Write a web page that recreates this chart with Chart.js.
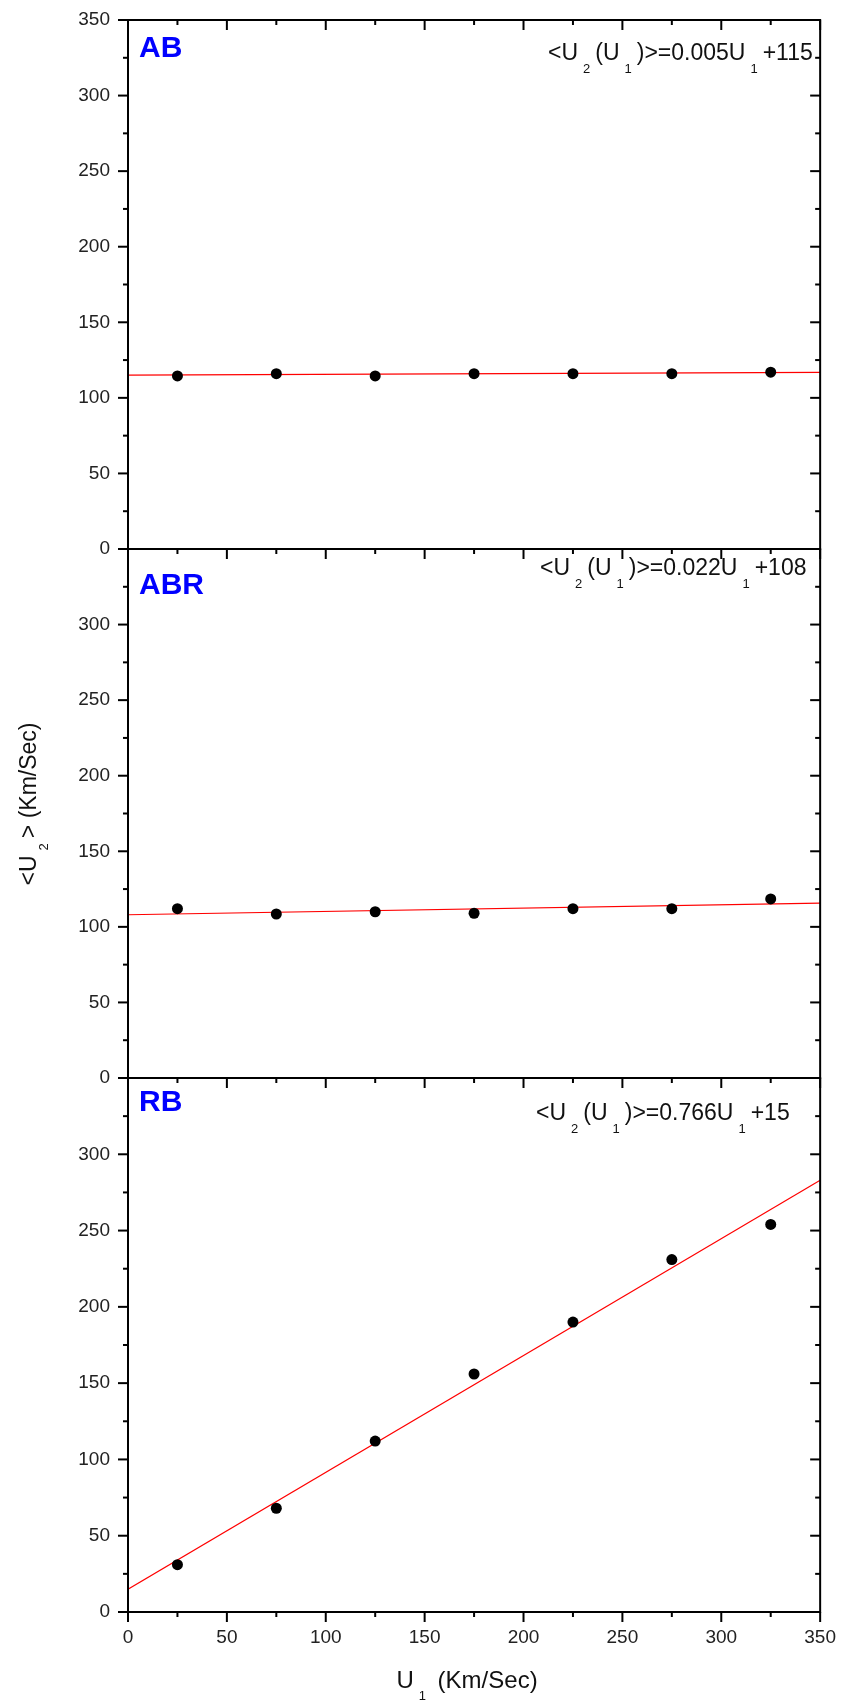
<!DOCTYPE html>
<html lang="en">
<head>
  <meta charset="UTF-8">
  <title>U2 vs U1</title>
  <script src="https://cdn.jsdelivr.net/npm/chart.js"></script>
  <style>
    body { margin: 0; background: #fff; }
    #wrap { width: 850px; height: 1701px; }
  </style>
</head>
<body>
  <div id="wrap"><canvas id="chart" width="850" height="1701"></canvas></div>
  <script>
    // data
    const u1 = [25, 75, 125, 175, 225, 275, 325];
    const abValues = [114.5, 116, 114.5, 116, 116, 116, 117];
    const abrValues = [112, 108.5, 110, 109, 112, 112, 118.5];
    const rbValues = [31, 68, 112, 156, 190, 231, 254];

    // fit lines, ends at U1 = 0 and 350
    const fitX = [0, 350];
    const abFit = [115, 116.8];
    const abrFit = [108, 115.7];
    const rbFit = [15, 283];

    const panelNames = ['AB', 'ABR', 'RB'];
    const fitSlopes = ['0.005', '0.022', '0.766'];
    const fitIntercepts = ['115', '108', '15'];
    const axisIds = ['yA', 'yB', 'yC'];

    const tickStep = 50;
    const minorStep = 25;

    const pts = vals => u1.map((x, i) => ({ x, y: vals[i] }));
    const fit = ends => fitX.map((x, i) => ({ x, y: ends[i] }));

    const pointSets = [abValues, abrValues, rbValues].map((v, i) => ({
      data: pts(v), yAxisID: axisIds[i], showLine: false,
      pointRadius: 5.5, pointBackgroundColor: '#000', pointBorderWidth: 0
    }));
    const lineSets = [abFit, abrFit, rbFit].map((v, i) => ({
      data: fit(v), yAxisID: axisIds[i], showLine: true, borderColor: '#ff0000',
      borderWidth: 1.2, pointRadius: 0
    }));

    // text with dropped subscripts: parts = [[text, isSub], ...]
    const subGap = 10;
    function partsWidth(ctx, parts, big, small) {
      let w = 0;
      for (const [t, sub] of parts) {
        ctx.font = (sub ? small : big) + 'px Arial';
        w += ctx.measureText(t).width + (sub ? subGap : 0);
      }
      return w;
    }
    function drawParts(ctx, parts, x, y, big, small, drop) {
      for (const [t, sub] of parts) {
        ctx.font = (sub ? small : big) + 'px Arial';
        ctx.fillText(t, x + (sub ? subGap / 2 : 0), sub ? y + drop : y);
        x += ctx.measureText(t).width + (sub ? subGap : 0);
      }
    }

    const labelOffsets = [37, 45, 33];
    const eqOffsets = [40, 26, 42];
    const eqStarts = [548, 540, 536];

    const framePlugin = {
      id: 'frame',
      afterDraw(chart) {
        const ctx = chart.ctx;
        const xs = chart.scales.x;
        const { left, right } = chart.chartArea;
        ctx.save();
        ctx.strokeStyle = '#000';
        ctx.lineWidth = 2;
        const seg = (x1, y1, x2, y2) => { ctx.beginPath(); ctx.moveTo(x1, y1); ctx.lineTo(x2, y2); ctx.stroke(); };

        axisIds.forEach((id, i) => {
          const ys = chart.scales[id];
          const top = ys.getPixelForValue(ys.max);
          const bot = ys.getPixelForValue(ys.min);
          ctx.strokeRect(left, top, right - left, bot - top);
          for (let v = ys.min; v <= ys.max; v += minorStep) {
            const py = ys.getPixelForValue(v);
            const len = v % tickStep === 0 ? 10 : 5;
            seg(left - len, py, left, py);
            seg(right - len, py, right, py);
          }
          for (let v = xs.min; v <= xs.max; v += minorStep) {
            const px = xs.getPixelForValue(v);
            const len = v % tickStep === 0 ? 10 : 5;
            seg(px, top, px, top + len);
            if (i === axisIds.length - 1) seg(px, bot, px, bot + len);
          }

          // panel name
          ctx.fillStyle = '#0000ff';
          ctx.font = 'bold 30px Arial';
          ctx.textBaseline = 'alphabetic';
          ctx.textAlign = 'left';
          ctx.fillText(panelNames[i], 139, top + labelOffsets[i]);

          // fit equation
          ctx.fillStyle = '#111';
          const eq = [['<U', 0], ['2', 1], ['(U', 0], ['1', 1], [')>=' + fitSlopes[i] + 'U', 0], ['1', 1], ['+' + fitIntercepts[i], 0]];
          drawParts(ctx, eq, eqStarts[i], top + eqOffsets[i], 23, 13, 13);
        });

        // axis titles
        ctx.fillStyle = '#111';
        const xt = [['U', 0], ['1', 1], [' (Km/Sec)', 0]];
        const xw = partsWidth(ctx, xt, 24, 13);
        drawParts(ctx, xt, 467 - xw / 2, 1688, 24, 13, 12);

        const yt = [['<U', 0], ['2', 1], ['> (Km/Sec)', 0]];
        ctx.translate(36, 804);
        ctx.rotate(-Math.PI / 2);
        const yw = partsWidth(ctx, yt, 23, 13);
        drawParts(ctx, yt, -yw / 2, 0, 23, 13, 12);
        ctx.restore();
      }
    };

    const yScale = (weight, stackWeight, showTop) => ({
      type: 'linear', position: 'left', stack: 'panels', stackWeight, weight,
      min: 0, max: 350,
      grid: { display: false, drawTicks: false },
      border: { display: false },
      ticks: {
        stepSize: tickStep, padding: 18, color: '#222', font: { size: 19, family: 'Arial' },
        callback: v => (!showTop && v === 350) ? '' : v
      },
      afterFit: s => { s.width = 128; s.paddingTop = 0; s.paddingBottom = 0; }
    });

    new Chart(document.getElementById('chart'), {
      type: 'scatter',
      data: { datasets: [...pointSets, ...lineSets] },
      options: {
        responsive: false,
        animation: false,
        layout: { padding: { top: 20, right: 22, left: 0, bottom: 0 } },
        plugins: { legend: { display: false }, tooltip: { enabled: false } },
        scales: {
          x: {
            type: 'linear', position: 'bottom', min: 0, max: 350,
            grid: { display: false, drawTicks: false },
            border: { display: false },
            ticks: { stepSize: tickStep, padding: 14, color: '#222', font: { size: 19, family: 'Arial' } },
            afterFit: s => { s.height = 89; }
          },
          yA: yScale(3, 529, true),
          yB: yScale(2, 529, false),
          yC: yScale(1, 534, false)
        }
      },
      plugins: [framePlugin]
    });
  </script>
</body>
</html>
